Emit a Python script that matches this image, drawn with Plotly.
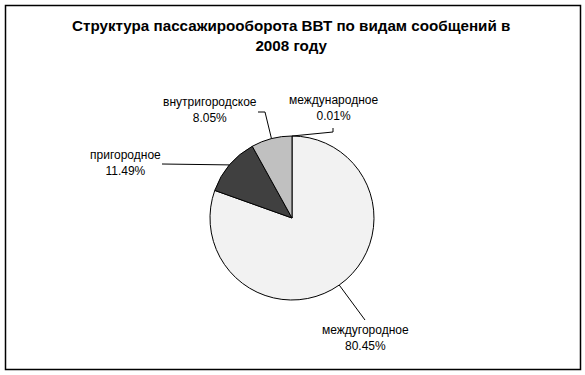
import math
import plotly.graph_objects as go

# Data
categories = ["международное", "междугородное", "пригородное", "внутригородское"]
values = [0.01, 80.45, 11.49, 8.05]
colors = ["#ffffff", "#f2f2f2", "#404040", "#c0c0c0"]
title_text = "Структура пассажирооборота ВВТ по видам сообщений в<br>2008 году"

W, H = 585, 375
CX, CY, R = 292, 218, 82  # pie centre / radius in pixels (from top-left)

def px(x):
    return x / W

def py(y):
    return 1 - y / H

fig = go.Figure(go.Pie(
    labels=categories,
    values=values,
    sort=False,
    direction="clockwise",
    rotation=0,
    textinfo="none",
    hoverinfo="label+percent",
    marker=dict(colors=colors, line=dict(color="#000000", width=1)),
    domain=dict(x=[px(CX - R), px(CX + R)], y=[py(CY + R), py(CY - R)]),
    showlegend=False,
))

# Label positions (pixel anchor of label centre, elbow points of leader line)
label_pos = {
    "международное": dict(text_xy=(334, 108), path=[(333, 132), (333, 128)]),
    "междугородное": dict(text_xy=(365, 338), path=[(365, 320)]),
    "пригородное": dict(text_xy=(125, 163), path=[(162, 164)]),
    "внутригородское": dict(text_xy=(210, 110), path=[(265, 112), (258, 112)]),
}

total = sum(values)
cum = 0.0
shapes = []
annotations = []
for cat, v in zip(categories, values):
    mid = (cum + v / 2) / total * 2 * math.pi
    cum += v
    sx = CX + R * math.sin(mid)
    sy = CY - R * math.cos(mid)
    pts = [(sx, sy)] + label_pos[cat]["path"]
    for (x0, y0), (x1, y1) in zip(pts[:-1], pts[1:]):
        shapes.append(dict(type="line", xref="paper", yref="paper",
                           x0=px(x0), y0=py(y0), x1=px(x1), y1=py(y1),
                           line=dict(color="#000000", width=1)))
    tx, ty = label_pos[cat]["text_xy"]
    pct = f"{v / total * 100:.2f}%"
    annotations.append(dict(
        x=px(tx), y=py(ty), xref="paper", yref="paper",
        text=f"{cat}<br>{pct}", showarrow=False,
        xanchor="center", yanchor="middle", align="center",
        font=dict(family="Liberation Sans, Arial, sans-serif", size=12, color="#000000"),
    ))

annotations.append(dict(
    x=px(291), y=py(36), xref="paper", yref="paper",
    text=f"<b>{title_text}</b>", showarrow=False,
    xanchor="center", yanchor="middle", align="center",
    font=dict(family="Liberation Sans, Arial, sans-serif", size=15.2, color="#000000"),
))

# chart border
shapes.append(dict(type="rect", xref="paper", yref="paper",
                   x0=px(5.5), y0=py(369.5), x1=px(580.5), y1=py(5.5),
                   line=dict(color="#000000", width=1.5), fillcolor="rgba(0,0,0,0)"))

fig.update_layout(
    width=W, height=H,
    margin=dict(l=0, r=0, t=0, b=0),
    paper_bgcolor="#ffffff",
    plot_bgcolor="#ffffff",
    shapes=shapes,
    annotations=annotations,
)

fig.write_html("out.html",
               config={"displayModeBar": False},
               post_script="document.body.style.margin='0';document.body.style.overflow='hidden';")
